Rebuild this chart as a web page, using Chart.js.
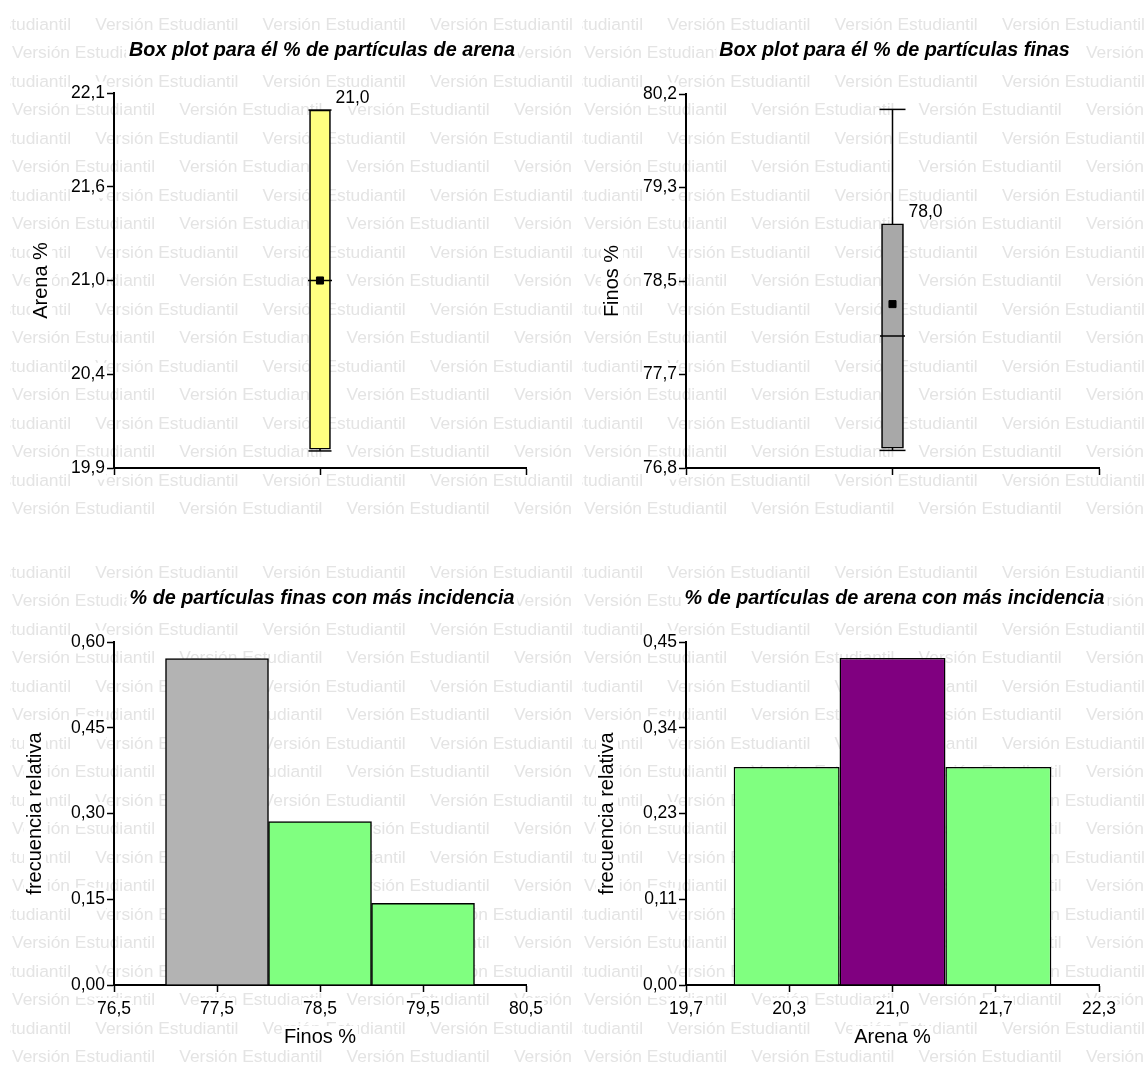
<!DOCTYPE html>
<html><head><meta charset="utf-8">
<script src="https://cdn.jsdelivr.net/npm/chart.js@4.4.0/dist/chart.umd.min.js"></script>
<style>
html,body{margin:0;padding:0;background:#fff;}
#wrap{position:relative;width:1147px;height:1066px;overflow:hidden;background:#fff;}
.panel{position:absolute;}
canvas{display:block;}
</style></head><body>
<div id="wrap">
 <div class="panel" style="left:0;top:0;"><canvas id="c1" width="574" height="548"></canvas></div>
 <div class="panel" style="left:572px;top:0;"><canvas id="c2" width="575" height="548"></canvas></div>
 <div class="panel" style="left:0;top:548px;"><canvas id="c3" width="574" height="518"></canvas></div>
 <div class="panel" style="left:572px;top:548px;"><canvas id="c4" width="575" height="518"></canvas></div>
</div>
<script>
// ================= DATA =================
// Box plot: % arena  [min, Q1, median, Q3, max]
const arenaBoxStats = [20.0, 20.01, 21.0, 22.0, 22.0];
const arenaMean = [21.0];
const arenaBoxTicks = [19.9, 20.45, 21.0, 21.55, 22.1];
const arenaBoxTickLabels = ['19,9', '20,4', '21,0', '21,6', '22,1'];

// Box plot: % finos  [min, Q1, median, Q3, max]
const finosBoxStats = [76.96, 76.98, 78.0, 79.02, 80.06];
const finosMean = [78.29];
const finosBoxTicks = [76.8, 77.65, 78.5, 79.35, 80.2];
const finosBoxTickLabels = ['76,8', '77,7', '78,5', '79,3', '80,2'];

// Box plots share one category position on a 0..2 axis
const boxPosition = [1];
const boxXTicks = [0, 1, 2];

// Histogram: % finos
const finosBinEdges = [77, 78, 79, 80];
const finosRelFreq = [0.571, 0.286, 0.143];
const finosHistXTicks = [76.5, 77.5, 78.5, 79.5, 80.5];
const finosHistXLabels = ['76,5', '77,5', '78,5', '79,5', '80,5'];
const finosHistYTicks = [0, 0.15, 0.30, 0.45, 0.60];
const finosHistYLabels = ['0,00', '0,15', '0,30', '0,45', '0,60'];

// Histogram: % arena
const arenaBinEdges = [20.0, 20.667, 21.333, 22.0];
const arenaRelFreq = [0.286, 0.429, 0.286];
const arenaHistXTicks = [19.7, 20.35, 21.0, 21.65, 22.3];
const arenaHistXLabels = ['19,7', '20,3', '21,0', '21,7', '22,3'];
const arenaHistYTicks = [0, 0.1125, 0.225, 0.3375, 0.45];
const arenaHistYLabels = ['0,00', '0,11', '0,23', '0,34', '0,45'];

// ================= STYLE =================
const FAM = '"Liberation Sans", Arial, sans-serif';
const TICK_SIZE = 17.5;
const AXTITLE_SIZE = 20;
const WM_TEXT = 'Versión Estudiantil';

const watermark = {
  id: 'watermark',
  beforeDraw(chart) {
    const ctx = chart.ctx;
    ctx.save();
    ctx.beginPath();
    ctx.rect(10, 0, chart.width - 10, chart.height);
    ctx.clip();
    ctx.font = '17.4px ' + FAM;
    ctx.fillStyle = '#e4e4e4';
    ctx.textBaseline = 'middle';
    ctx.textAlign = 'left';
    for (let k = 0; k < 18; k++) {
      const y = 25 + 28.5 * k;
      for (let x = (k % 2 === 0) ? -72 : 12; x < chart.width; x += 167.3) {
        ctx.fillText(WM_TEXT, x, y);
      }
    }
    ctx.restore();
    ctx.save();
    // white areas behind axis titles
    ctx.fillStyle = '#fff';
    ctx.font = AXTITLE_SIZE + 'px ' + FAM;
    const ys = chart.scales.y;
    if (ys.options.title.display) {
      const w = ctx.measureText(ys.options.title.text).width;
      const cx = ys.left + 4 + AXTITLE_SIZE * 0.6;
      const cy = (ys.top + ys.bottom) / 2;
      ctx.fillRect(cx - 11, cy - w / 2 - 2, 22, w + 4);
    }
    const xs = chart.scales.x;
    if (xs.options.title.display) {
      const w = ctx.measureText(xs.options.title.text).width;
      const cy = xs.bottom - 4 - AXTITLE_SIZE * 0.6;
      const cx = (xs.left + xs.right) / 2;
      ctx.fillRect(cx - w / 2 - 2, cy - 11, w + 4, 22);
    }
    // panel title
    const t = chart.options.plugins.panelTitle;
    if (t && t.text) {
      ctx.font = 'italic bold 19.8px ' + FAM;
      const w = ctx.measureText(t.text).width;
      const cx = (chart.chartArea.left + chart.chartArea.right) / 2 + 2;
      const cy = 51;
      ctx.fillStyle = '#fff';
      ctx.fillRect(cx - w / 2 - 3, cy - 12, w + 6, 24);
      ctx.fillStyle = '#000';
      ctx.textAlign = 'center';
      ctx.textBaseline = 'middle';
      ctx.fillText(t.text, cx, cy);
    }
    ctx.restore();
  }
};

const boxLabel = {
  id: 'boxLabel',
  afterDatasetsDraw(chart) {
    const o = chart.options.plugins.boxLabel;
    if (!o || o.value === undefined) return;
    const meta = chart.getDatasetMeta(o.barIndex);
    const bar = meta.data[0];
    if (!bar) return;
    const ctx = chart.ctx;
    const xr = bar.x + bar.width / 2 + 5;
    const yb = chart.scales.y.getPixelForValue(o.top) - 7;
    const txt = o.value.toFixed(1).replace('.', ',');
    ctx.save();
    ctx.font = TICK_SIZE + 'px ' + FAM;
    const w = ctx.measureText(txt).width;
    ctx.fillStyle = '#fff';
    ctx.fillRect(xr - 1, yb - 14, w + 2, 17);
    ctx.fillStyle = '#000';
    ctx.textAlign = 'left';
    ctx.textBaseline = 'alphabetic';
    ctx.fillText(txt, xr, yb);
    ctx.restore();
  }
};

function axisCommon() {
  return {
    grid: { display: true, drawOnChartArea: false, drawTicks: true, tickLength: 7, tickWidth: 1.5, tickColor: '#000', offset: false },
    border: { display: true, color: '#000', width: 2 }
  };
}

function yAxis(min, max, ticks, labels, title, width) {
  return Object.assign(axisCommon(), {
    type: 'linear', position: 'left', min: min, max: max, offset: false,
    afterBuildTicks: s => { s.ticks = ticks.map(v => ({ value: v })); },
    ticks: {
      autoSkip: false, callback: (v, i) => labels[i], color: '#000', padding: 2,
      font: { family: FAM, size: TICK_SIZE },
      showLabelBackdrop: true, backdropColor: '#fff', backdropPadding: 1
    },
    title: { display: true, text: title, color: '#000', font: { family: FAM, size: AXTITLE_SIZE }, padding: { top: 4, bottom: 4 } },
    afterFit: s => { s.width = width; }
  });
}

function boxChart(id, stats, mean, yTicks, yLabels, fill, yTitle, title, g) {
  const [mn, q1, med, q3, mx] = stats;
  const xp = boxPosition[0];
  return new Chart(document.getElementById(id), {
    type: 'bar',
    data: {
      datasets: [
        { type: 'line', data: [{ x: xp, y: mn }, { x: xp, y: mx }], borderColor: '#000', borderWidth: 1.5, pointRadius: 0, order: 5 },
        { type: 'bar', data: [{ x: xp, y: [q1, q3] }], backgroundColor: fill, borderColor: '#000', borderWidth: 1.6, borderSkipped: false, barThickness: g.bw, order: 4 },
        { type: 'line', showLine: false, data: [{ x: xp, y: mn }, { x: xp, y: mx }], pointStyle: 'line', pointRadius: g.capR, pointBorderWidth: 1.5, pointBorderColor: '#000', order: 2 },
        { type: 'line', showLine: false, data: [{ x: xp, y: med }], pointStyle: 'line', pointRadius: g.medR, pointBorderWidth: 1.5, pointBorderColor: '#000', order: 2 },
        { type: 'line', showLine: false, data: [{ x: xp, y: mean[0] }], pointStyle: 'rect', pointRadius: 5, pointBorderWidth: 1, pointBackgroundColor: '#000', pointBorderColor: '#000', order: 1 }
      ]
    },
    options: {
      responsive: false, animation: false, events: [],
      layout: { padding: { left: g.padL, top: g.padT, right: g.padR, bottom: 0 } },
      plugins: { legend: { display: false }, tooltip: { enabled: false }, title: { display: false },
        panelTitle: { text: title }, boxLabel: { value: med, top: q3, barIndex: 1 } },
      scales: {
        x: Object.assign(axisCommon(), {
          type: 'linear', min: boxXTicks[0], max: boxXTicks[boxXTicks.length - 1], offset: false,
          afterBuildTicks: s => { s.ticks = boxXTicks.map(v => ({ value: v })); },
          ticks: { callback: () => '', showLabelBackdrop: false, autoSkip: false },
          title: { display: false },
          afterFit: s => { s.height = g.xH; }
        }),
        y: yAxis(yTicks[0], yTicks[yTicks.length - 1], yTicks, yLabels, yTitle, 114 - g.padL)
      }
    },
    plugins: [watermark, boxLabel]
  });
}

function histChart(id, edges, freq, colors, xTicks, xLabels, yTicks, yLabels, xTitle, title, g) {
  const centers = freq.map((_, i) => (edges[i] + edges[i + 1]) / 2);
  const binW = edges[1] - edges[0];
  const tickStep = xTicks[1] - xTicks[0];
  return new Chart(document.getElementById(id), {
    type: 'bar',
    data: {
      datasets: [{
        data: centers.map((c, i) => ({ x: c, y: freq[i] })),
        backgroundColor: colors, borderColor: '#000', borderWidth: 1.5,
        barPercentage: binW / Math.min(binW, tickStep), categoryPercentage: 1
      }]
    },
    options: {
      responsive: false, animation: false, events: [],
      layout: { padding: { left: g.padL, top: g.padT, right: g.padR, bottom: g.padB } },
      plugins: { legend: { display: false }, tooltip: { enabled: false }, title: { display: false },
        panelTitle: { text: title } },
      scales: {
        x: Object.assign(axisCommon(), {
          type: 'linear', min: xTicks[0], max: xTicks[xTicks.length - 1], offset: false,
          afterBuildTicks: s => { s.ticks = xTicks.map(v => ({ value: v })); },
          ticks: { autoSkip: false, maxRotation: 0, callback: (v, i) => xLabels[i], color: '#000', padding: 7,
            font: { family: FAM, size: TICK_SIZE }, showLabelBackdrop: true, backdropColor: '#fff', backdropPadding: 1 },
          title: { display: true, text: xTitle, color: '#000', font: { family: FAM, size: AXTITLE_SIZE }, padding: { top: 4, bottom: 4 } },
          afterFit: s => { s.height = g.xH; }
        }),
        y: yAxis(yTicks[0], yTicks[yTicks.length - 1], yTicks, yLabels, 'frecuencia relativa', 114 - g.padL)
      }
    },
    plugins: [watermark]
  });
}

const GREEN = '#80ff80', GREY_BAR = '#b3b3b3', PURPLE = '#800080';

boxChart('c1', arenaBoxStats, arenaMean, arenaBoxTicks, arenaBoxTickLabels, '#ffff80', 'Arena %',
  'Box plot para él % de partículas de arena', { padL: 25, padT: 93, padR: 48, xH: 80, bw: 21, capR: 11.5, medR: 12 });
boxChart('c2', finosBoxStats, finosMean, finosBoxTicks, finosBoxTickLabels, '#a8a8a8', 'Finos %',
  'Box plot para él % de partículas finas', { padL: 24, padT: 94, padR: 48, xH: 80, bw: 22, capR: 13, medR: 12.5 });
histChart('c3', finosBinEdges, finosRelFreq, [GREY_BAR, GREEN, GREEN], finosHistXTicks, finosHistXLabels,
  finosHistYTicks, finosHistYLabels, 'Finos %', '% de partículas finas con más incidencia',
  { padL: 19, padT: 94, padR: 48, padB: 13, xH: 68 });
histChart('c4', arenaBinEdges, arenaRelFreq, [GREEN, PURPLE, GREEN], arenaHistXTicks, arenaHistXLabels,
  arenaHistYTicks, arenaHistYLabels, 'Arena %', '% de partículas de arena con más incidencia',
  { padL: 19, padT: 94, padR: 48, padB: 13, xH: 68 });
</script>
</body></html>
